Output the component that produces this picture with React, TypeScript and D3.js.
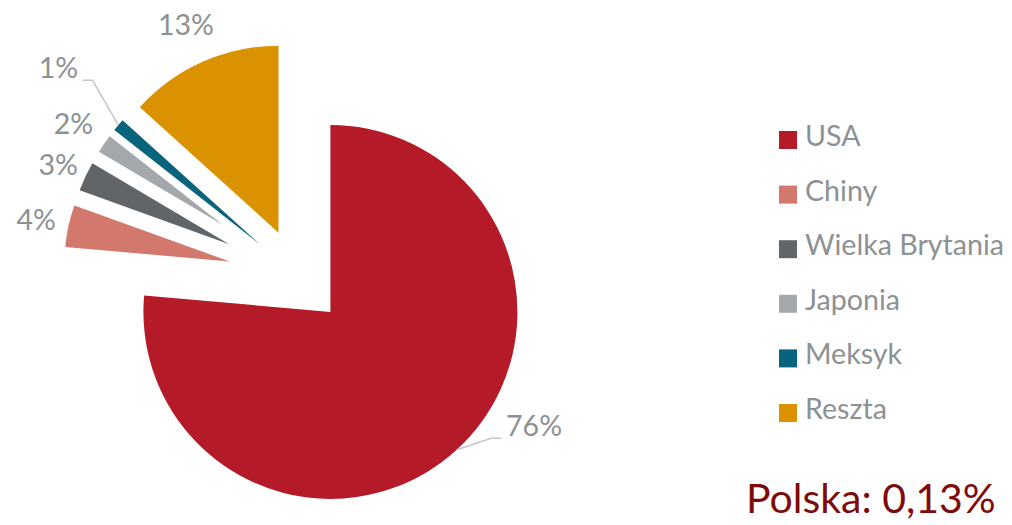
import React from 'react';
import * as d3 from 'd3';

const countries = ['USA', 'Chiny', 'Wielka Brytania', 'Japonia', 'Meksyk', 'Reszta'];
const shares = [76.4, 4.1, 3.0, 2.1, 1.1, 13.3];
const colors = ['#B51A28', '#D2786C', '#5F6569', '#A5A8AB', '#08637D', '#DB9200'];
const note = 'Polska: 0,13%';

// each slice is pulled out by its own amount (Excel-like explosion)
const explode = [48, 70, 76, 91, 50, 48];
// label placement: radius from pie centre, angle shift (deg), leader line
const labelRadius = [279, 268, 265, 272, 318, 276];
const labelShift = [-15.3, 0, 0, 0, 1, 0];
const labelLeader = [true, false, false, false, true, false];

const W = 1012;
const H = 525;
const CX = 298;
const CY = 276.5;
const R_OUT = 235;
const TEXT = '#8C9194';
const FONT = 'Lato, "Open Sans", sans-serif';

const dir = (a: number): [number, number] => [Math.sin(a), -Math.cos(a)];

const App: React.FC = () => {
  const pie = d3.pie<number>().sort(null).value(d => d);
  const arcs = pie(shares);

  return (
    <svg width={W} height={H} style={{ position: 'absolute', left: 0, top: 0, background: '#fff' }}>
      <g transform={`translate(${CX},${CY})`}>
        {arcs.map((a, i) => {
          const mid = (a.startAngle + a.endAngle) / 2;
          const [dx, dy] = dir(mid);
          const r = R_OUT - explode[i];
          const path = d3.arc<d3.PieArcDatum<number>>().innerRadius(0).outerRadius(r)(a) || '';
          return (
            <path
              key={countries[i]}
              d={path}
              fill={colors[i]}
              transform={`translate(${dx * explode[i]},${dy * explode[i]})`}
            />
          );
        })}
        {arcs.map((a, i) => {
          const mid = (a.startAngle + a.endAngle) / 2;
          const la = mid + (labelShift[i] * Math.PI) / 180;
          const [lx, ly] = dir(la).map(v => v * labelRadius[i]);
          const txt = `${Math.round(shares[i])}%`;
          let leader = null;
          if (labelLeader[i]) {
            const [mx, my] = dir(mid);
            const ox = mx * R_OUT;
            const oy = my * R_OUT;
            const hw = txt.length * 9;
            const side = lx > ox ? -1 : 1;
            const endX = lx + side * (hw + 6);
            const elbowX = endX + side * 10;
            const lineY = ly + 13;
            leader = (
              <polyline
                points={`${ox},${oy} ${elbowX},${lineY} ${endX},${lineY}`}
                fill="none"
                stroke="#C4C6C8"
                strokeWidth={1.5}
              />
            );
          }
          return (
            <g key={'l' + i}>
              {leader}
              <text
                x={lx}
                y={ly}
                textAnchor="middle"
                dominantBaseline="central"
                fill={TEXT}
                fontFamily={FONT}
                fontSize={28.5}
              >
                {txt}
              </text>
            </g>
          );
        })}
      </g>
      <g>
        {countries.map((c, i) => {
          const cy = 140 + i * 54.6;
          return (
            <g key={'lg' + c}>
              <rect x={779} y={cy - 9} width={18} height={18} fill={colors[i]} />
              <text x={805} y={cy + 6} fill={TEXT} fontFamily={FONT} fontSize={28.6}>
                {c}
              </text>
            </g>
          );
        })}
      </g>
      <text x={746} y={513} fill="#7F0A0A" fontFamily={FONT} fontSize={41}>
        {note}
      </text>
    </svg>
  );
};

export default App;
